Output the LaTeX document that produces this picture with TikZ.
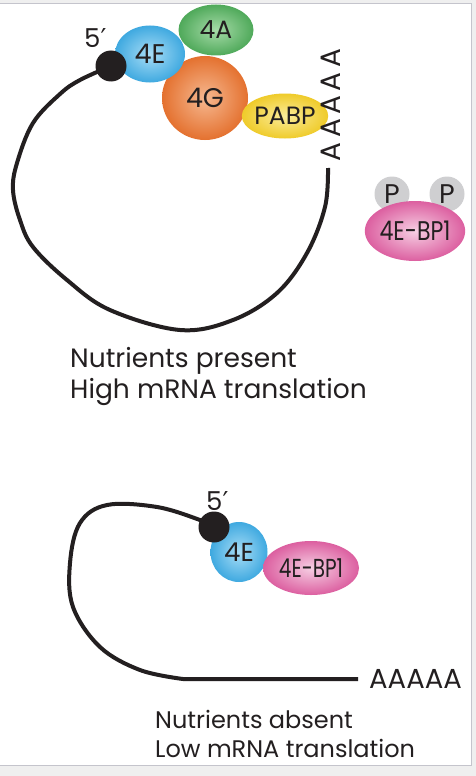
\documentclass[tikz,border=0pt]{standalone}
\usepackage{fontspec}
\setmainfont{Poppins}
\newfontfamily\djv{DejaVu Sans}
\usetikzlibrary{shapes.geometric}
\definecolor{txt}{HTML}{231F20}
\definecolor{bgray}{HTML}{EFEFEF}
\definecolor{fgray}{HTML}{C4C4CC}
\definecolor{eblue}{HTML}{3FA9E0}
\definecolor{eblueL}{HTML}{A8DDF6}
\definecolor{agreen}{HTML}{4FA95A}
\definecolor{agreenL}{HTML}{A6DBA8}
\definecolor{gorange}{HTML}{E4712F}
\definecolor{gorangeL}{HTML}{F6B890}
\definecolor{pyellow}{HTML}{EFCB2A}
\definecolor{pyellowL}{HTML}{FBEC9A}
\definecolor{bpink}{HTML}{DC5FA0}
\definecolor{bpinkL}{HTML}{F6CFE3}
\definecolor{pgray}{HTML}{CFCFD1}
\newcommand{\fs}[1]{\fontsize{#1}{#1}\selectfont}
\tikzset{
  blob/.style={ellipse, inner sep=0pt, text=txt},
  rope/.style={line width=4pt, txt, line cap=butt},
  capdot/.style={circle, fill=txt, inner sep=0pt, minimum size=31pt},
  lbl/.style={text=txt, anchor=base west, inner sep=0pt},
  pcirc/.style={circle, fill=pgray, inner sep=0pt, minimum size=35pt, text=txt, font=\fs{27}}
}
\begin{document}
\begin{tikzpicture}[x=1pt,y=-1pt]
\useasboundingbox (0,0) rectangle (476,776);
\fill[bgray] (0,0) rectangle (476,776);
\filldraw[fill=white, draw=fgray, line width=1pt] (-2,3.5) rectangle (471.5,765);

% ---------- top panel ----------
\coordinate (t5) at (111,66);
\coordinate (t3) at (328,168);
\draw[rope] plot[smooth, tension=0.6] coordinates {(111,66) (80,80) (60,94) (33,123) (17,163) (13,190) (20,220) (33,247) (67,280) (110,310) (180,330) (233,320) (277,293) (307,253) (325,207) (328,168)};

\node[blob, minimum width=75pt, minimum height=51pt, shade, inner color=agreenL, outer color=agreen, font=\fs{25}] (a4) at (216,30) {4A};
\node[blob, minimum width=86pt, minimum height=84pt, shade, inner color=gorangeL, outer color=gorange, font=\fs{27}] (g4) at (205,98) {4G};
\node[blob, minimum width=70pt, minimum height=57pt, shade, inner color=eblueL, outer color=eblue, font=\fs{27}] (e4) at (150,54) {4E};
\node[blob, minimum width=85pt, minimum height=45pt, shade, inner color=pyellowL, outer color=pyellow, font=\fs{25}] (pabp) at (285,116) {PABP};
\node[capdot] (dot1) at (t5) {};
\node[lbl, font=\fs{26}] (p5a) at (84,48) {5\djv′};
\node[text=txt, font=\fs{28}, rotate=90, inner sep=0pt] (polyA1) at (331,105) {A\kern4.5pt A\kern4.5pt A\kern4.5pt A\kern4.5pt A};

% free 4E-BP1
\node[pcirc] (P1) at (392,194) {P};
\node[pcirc] (P2) at (447,194) {P};
\node[blob, minimum width=100pt, minimum height=60pt, shade, inner color=bpinkL, outer color=bpink, font=\fs{27}] (bp1) at (415,231) {\scalebox{0.82}[1]{4E-BP1}};

\node[lbl, font=\fs{26.5}] (cap1a) at (70,367) {Nutrients present};
\node[lbl, font=\fs{26.5}] (cap1b) at (70,398) {High mRNA translation};

% ---------- bottom panel ----------
\coordinate (b5) at (214,527);
\coordinate (b3) at (358,679);
\draw[rope] plot[smooth, tension=0.6] coordinates {(214,527) (200,520) (157,507) (107,505) (80,523) (70,563) (73,607) (100,647) (140,670) (183,679)} -- (b3);
\node[blob, minimum width=57pt, minimum height=60pt, shade, inner color=eblueL, outer color=eblue, font=\fs{26}] (e4b) at (239,552) {4E};
\node[blob, minimum width=96pt, minimum height=54pt, shade, inner color=bpinkL, outer color=bpink, font=\fs{26}] (bp1b) at (311,568) {\scalebox{0.77}[1]{4E-BP1}};
\node[capdot] (dot2) at (b5) {};
\node[lbl, font=\fs{26}] (p5b) at (206,510) {5\djv′};
\node[lbl, font=\fs{27.5}] (polyA2) at (369,688) {AAAAA};

\node[lbl, font=\fs{24}] (cap2a) at (155,728) {Nutrients absent};
\node[lbl, font=\fs{24}] (cap2b) at (155,757) {Low mRNA translation};
\end{tikzpicture}
\end{document}
